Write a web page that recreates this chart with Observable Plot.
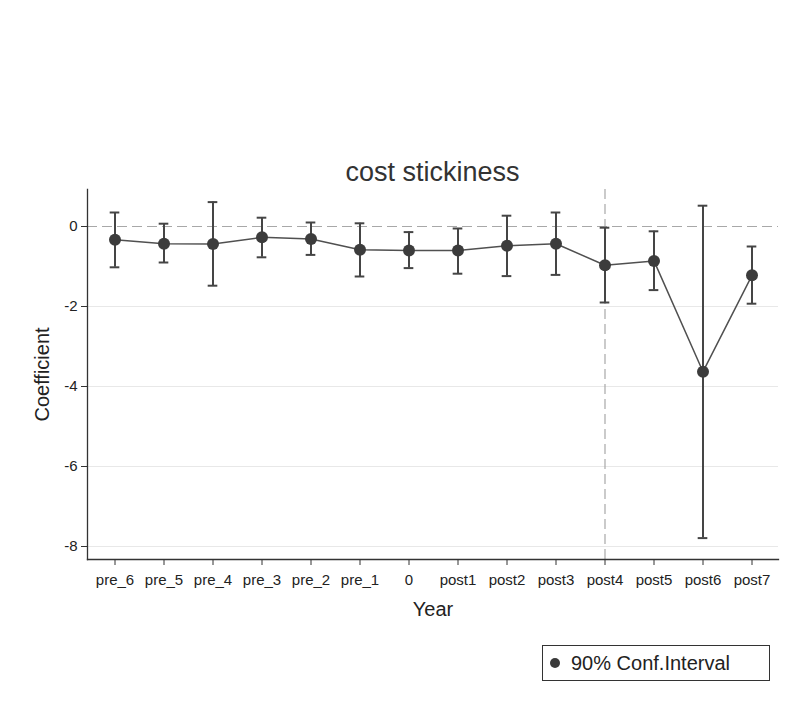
<!DOCTYPE html>
<html>
<head>
<meta charset="utf-8">
<script src="https://cdn.jsdelivr.net/npm/d3@7"></script>
<script src="https://cdn.jsdelivr.net/npm/@observablehq/plot@0.6"></script>
<style>
  html, body { margin: 0; padding: 0; background: #fff; }
  body { width: 785px; height: 702px; position: relative; font-family: "Liberation Sans", Arial, sans-serif; color: #222; }
  #title { position: absolute; top: 156px; left: 87px; width: 691px; text-align: center; font-size: 27px; line-height: 32px; color: #333; }
  #chart { position: absolute; top: 185px; left: 0; }
  #legend { position: absolute; left: 542px; top: 645px; width: 226px; height: 34px; border: 1.3px solid #333; box-sizing: content-box; }
  #legend .dot { position: absolute; left: 7px; top: 12px; width: 10px; height: 10px; border-radius: 50%; background: #3a3a3a; }
  #legend .lbl { position: absolute; left: 28px; top: 5px; font-size: 20px; line-height: 24px; color: #222; }
</style>
</head>
<body>
<div id="title">cost stickiness</div>
<div id="chart"></div>
<div id="legend"><div class="dot"></div><div class="lbl">90% Conf.Interval</div></div>
<script>
const years = ["pre_6","pre_5","pre_4","pre_3","pre_2","pre_1","0","post1","post2","post3","post4","post5","post6","post7"];
const coef  = [-0.33,-0.43,-0.44,-0.27,-0.31,-0.58,-0.60,-0.60,-0.48,-0.43,-0.97,-0.86,-3.63,-1.22];
const ciHigh = [0.35,0.07,0.61,0.22,0.10,0.08,-0.14,-0.05,0.27,0.35,-0.03,-0.12,0.52,-0.50];
const ciLow  = [-1.02,-0.90,-1.48,-0.77,-0.71,-1.25,-1.04,-1.18,-1.24,-1.21,-1.90,-1.59,-7.79,-1.93];
const yTicks = [0,-2,-4,-6,-8];
const gridTicks = [-2,-4,-6,-8];
const eventYear = "post4";

const data = years.map((y, i) => ({year: y, coef: coef[i], lo: ciLow[i], hi: ciHigh[i]}));
const ink = "#3c3c3c";
const capInset = (691 / years.length - 10) / 2;

const chart = Plot.plot({
  width: 785,
  height: 440,
  marginLeft: 87,
  marginRight: 7,
  marginTop: 4,
  marginBottom: 66,
  style: {fontFamily: "Liberation Sans, Arial, sans-serif", fontSize: "15px", color: "#222", background: "#fff"},
  x: {type: "band", domain: years, padding: 0},
  y: {domain: [-8.325, 0.925]},
  marks: [
    Plot.ruleY(gridTicks, {stroke: "#e8e8e8", strokeWidth: 1}),
    Plot.ruleY([0], {stroke: "#a8a8a8", strokeWidth: 1.2, strokeDasharray: "10,5"}),
    Plot.ruleX([eventYear], {stroke: "#a8a8a8", strokeWidth: 1.2, strokeDasharray: "10,5"}),
    Plot.axisY({ticks: yTicks, tickSize: 6, tickPadding: 4, tickFormat: d => String(d), label: null, fontSize: 15, stroke: "#333"}),
    Plot.axisX({tickSize: 6, tickPadding: 9, label: null, fontSize: 15, stroke: "#333"}),
    Plot.frame({anchor: "left", stroke: "#333", strokeWidth: 1.3}),
    Plot.frame({anchor: "bottom", stroke: "#333", strokeWidth: 1.3}),
    Plot.ruleX(data, {x: "year", y1: "lo", y2: "hi", stroke: "#454545", strokeWidth: 2}),
    Plot.tickY(data, {x: "year", y: "hi", stroke: "#454545", strokeWidth: 2, insetLeft: capInset, insetRight: capInset}),
    Plot.tickY(data, {x: "year", y: "lo", stroke: "#454545", strokeWidth: 2, insetLeft: capInset, insetRight: capInset}),
    Plot.line(data, {x: "year", y: "coef", stroke: "#505050", strokeWidth: 1.5}),
    Plot.dot(data, {x: "year", y: "coef", r: 6, fill: ink, stroke: "none"}),
    Plot.text(["Year"], {frameAnchor: "bottom", dy: 56, fontSize: 20, fill: "#222", text: d => d}),
    Plot.text(["Coefficient"], {frameAnchor: "left", textAnchor: "middle", dx: -45, rotate: -90, fontSize: 20, fill: "#222", text: d => d})
  ]
});
document.getElementById("chart").appendChild(chart);
</script>
</body>
</html>
